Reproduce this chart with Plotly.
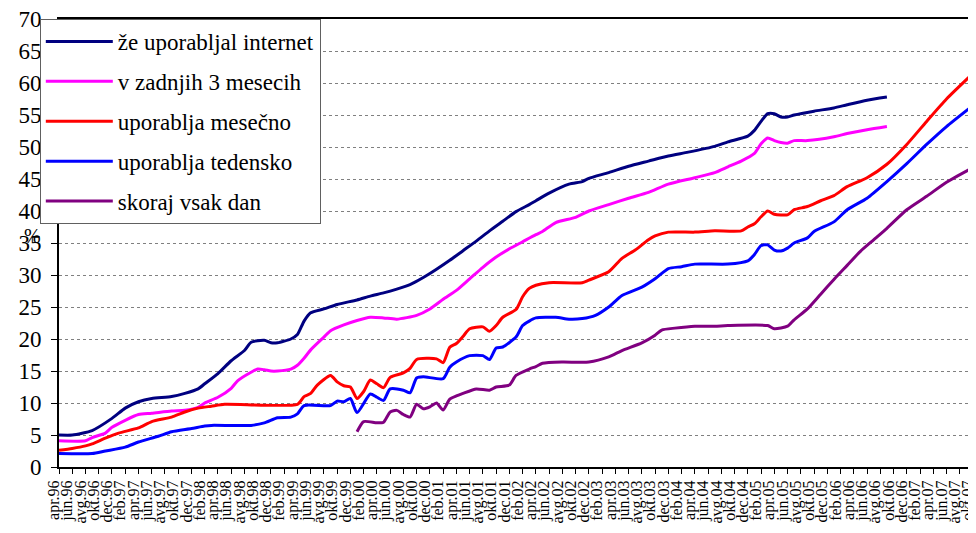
import plotly.graph_objects as go

# months since apr.96 (0 = apr.96, 138 = okt.07)
month_names = ["jan", "feb", "mar", "apr", "maj", "jun", "jul", "avg", "sep", "okt", "nov", "dec"]
tick_vals = list(range(0, 139, 2))
tick_text = [f"{month_names[(3 + i) % 12]}.{(96 + (3 + i) // 12) % 100:02d}" for i in tick_vals]

# že uporabljal internet
ever_x = [0, 2, 5, 8, 10, 12, 14, 17, 19, 21, 22, 24, 26, 28, 29, 31, 32, 33, 35, 36, 37, 38, 40, 42,
          45, 47, 49, 51, 53, 55, 57, 59, 61, 63, 65, 67, 69, 71, 72, 74, 77, 79, 80, 83, 86, 89, 92,
          95, 99, 101, 104, 105, 106, 107, 108, 109, 110, 111, 114, 117, 119, 122, 125]
ever_y = [5.0, 5.0, 5.7, 7.6, 9.2, 10.2, 10.7, 11.0, 11.5, 12.2, 13.0, 14.6, 16.6, 18.2, 19.5, 19.8,
          19.4, 19.4, 20.0, 20.7, 22.8, 24.1, 24.7, 25.4, 26.1, 26.7, 27.2, 27.8, 28.5, 29.6, 30.9,
          32.3, 33.8, 35.3, 36.9, 38.4, 39.9, 41.0, 41.6, 42.8, 44.2, 44.6, 45.1, 46.0, 47.0, 47.8,
          48.6, 49.2, 50.1, 50.8, 51.7, 52.6, 54.0, 55.2, 55.2, 54.7, 54.7, 55.0, 55.6, 56.1, 56.6,
          57.3, 57.8]

# v zadnjih 3 mesecih
last3_x = [0, 4, 5, 7, 8, 10, 12, 14, 17, 19, 21, 22, 24, 26, 27, 29, 30, 31, 32, 33, 35, 36, 37, 38,
           40, 41, 43, 45, 47, 49, 51, 54, 56, 58, 60, 62, 64, 66, 68, 70, 72, 73, 75, 78, 80, 83, 86,
           89, 92, 96, 99, 101, 103, 105, 106, 107, 108, 109, 110, 111, 113, 117, 119, 122, 125]
last3_y = [4.1, 4.1, 4.6, 5.3, 6.2, 7.3, 8.2, 8.4, 8.75, 8.85, 9.3, 10.0, 10.9, 12.3, 13.5, 14.8,
           15.3, 15.2, 15.0, 15.0, 15.3, 15.9, 17.0, 18.3, 20.3, 21.3, 22.2, 22.9, 23.4, 23.3, 23.1,
           23.7, 24.7, 26.2, 27.6, 29.4, 31.2, 32.8, 34.1, 35.2, 36.3, 36.8, 38.2, 39.0, 40.0, 41.0,
           42.0, 42.9, 44.2, 45.2, 46.0, 46.9, 47.8, 49.0, 50.5, 51.4, 51.0, 50.7, 50.6, 51.0, 51.0,
           51.6, 52.1, 52.7, 53.2]

# uporablja mesečno
monthly_x = [0, 2, 4, 5, 7, 9, 12, 14, 17, 19, 21, 23, 25, 36, 37, 38, 39, 41, 42, 43, 44, 45, 46, 47,
             48, 49, 50, 52, 53, 54, 57, 58, 59, 60, 61, 62, 64, 65, 66, 67, 69, 70, 71, 72, 74, 79,
             80, 83, 85, 87, 89, 90, 92, 96, 99, 103, 104, 105, 106, 107, 108, 110, 111, 113, 115,
             117, 119, 122, 125, 128, 131, 134, 138]
monthly_y = [2.6, 2.9, 3.3, 3.6, 4.5, 5.3, 6.1, 7.1, 7.8, 8.6, 9.2, 9.5, 9.8, 9.8, 11.0, 11.5, 12.8,
             14.3, 13.3, 12.7, 12.5, 10.7, 11.8, 13.6, 13.0, 12.4, 14.0, 14.7, 15.4, 16.8, 16.9, 16.3,
             18.7, 19.3, 20.4, 21.6, 21.9, 21.2, 22.1, 23.4, 24.6, 26.6, 27.9, 28.4, 28.8, 28.8, 29.2,
             30.5, 32.6, 33.9, 35.5, 36.1, 36.7, 36.7, 36.9, 36.9, 37.5, 38.0, 39.1, 40.0, 39.5, 39.4,
             40.2, 40.7, 41.6, 42.4, 43.8, 45.2, 47.3, 50.4, 54.0, 57.5, 61.5]

# uporablja tedensko
weekly_x = [0, 5, 7, 10, 12, 15, 17, 20, 22, 23, 29, 31, 33, 35, 36, 37, 41, 42, 43, 44, 45, 47, 48,
            49, 50, 52, 53, 54, 55, 58, 59, 60, 62, 64, 65, 66, 67, 69, 70, 71, 72, 75, 77, 79, 81,
            83, 85, 88, 90, 92, 94, 96, 101, 104, 105, 106, 107, 108, 109, 110, 111, 113, 114, 117,
            119, 122, 125, 128, 131, 134, 138]
weekly_y = [2.1, 2.1, 2.5, 3.1, 3.9, 4.8, 5.5, 6.0, 6.4, 6.5, 6.5, 6.9, 7.7, 7.8, 8.3, 9.6, 9.6, 10.3,
            10.2, 10.7, 8.5, 11.4, 10.9, 10.4, 12.2, 12.0, 11.6, 13.9, 14.1, 13.8, 15.6, 16.4, 17.4,
            17.4, 16.8, 18.6, 18.75, 20.3, 22.1, 22.8, 23.3, 23.4, 23.1, 23.2, 23.7, 25.0, 26.8, 28.1,
            29.4, 31.0, 31.3, 31.7, 31.7, 32.2, 33.2, 34.6, 34.7, 33.9, 33.75, 34.2, 35.0, 35.8, 36.8,
            38.3, 40.2, 42.0, 44.6, 47.4, 50.4, 53.2, 56.5]

# skoraj vsak dan
daily_x = [45, 46, 48, 49, 50, 51, 52, 53, 54, 55, 56, 57, 58, 59, 60, 61, 63, 65, 66, 68, 69, 71, 72,
           73, 76, 80, 83, 85, 88, 90, 91, 93, 96, 99, 101, 107, 108, 110, 111, 113, 115, 117, 119,
           121, 123, 125, 128, 131, 134, 138]
daily_y = [5.5, 7.1, 6.9, 7.0, 8.6, 8.85, 8.2, 7.8, 9.8, 9.1, 9.4, 10.0, 8.9, 10.6, 11.1, 11.5, 12.2,
           12.0, 12.5, 12.8, 14.3, 15.3, 15.7, 16.2, 16.4, 16.4, 17.2, 18.2, 19.4, 20.6, 21.4, 21.7,
           22.0, 22.0, 22.1, 22.1, 21.6, 22.0, 23.0, 24.7, 27.0, 29.3, 31.5, 33.7, 35.5, 37.3, 40.2,
           42.3, 44.5, 46.8]

series = [
    ("že uporabljal internet", ever_x, ever_y, "#000080"),
    ("v zadnjih 3 mesecih", last3_x, last3_y, "#FF00FF"),
    ("uporablja mesečno", monthly_x, monthly_y, "#FF0000"),
    ("uporablja tedensko", weekly_x, weekly_y, "#0000FF"),
    ("skoraj vsak dan", daily_x, daily_y, "#800080"),
]

SERIF = "Liberation Serif"

fig = go.Figure()
for i, (name, xs, ys, color) in enumerate(series):
    fig.add_trace(go.Scatter(
        x=xs, y=ys, name=name, mode="lines", legendgroup=f"g{i}",
        line=dict(color=color, width=3, shape="spline", smoothing=0.6),
    ))

# the page body adds an 8px margin all round, so the figure is shrunk to fit the window
fig.update_layout(
    width=968,
    height=517,
    margin=dict(l=51, r=3, t=11, b=58),
    paper_bgcolor="white",
    plot_bgcolor="white",
    font=dict(family=SERIF, color="black"),
    showlegend=True,
    legend=dict(
        x=-0.021, y=1.0, xanchor="left", yanchor="top",
        bgcolor="white", bordercolor="#606060", borderwidth=1,
        font=dict(family=SERIF, size=23, color="black"),
        tracegroupgap=7,
        itemwidth=67,
    ),
    xaxis=dict(
        range=[0, 138],
        tickvals=tick_vals,
        ticktext=tick_text,
        tickangle=-90,
        tickfont=dict(family=SERIF, size=16),
        ticks="outside", ticklen=5, tickcolor="black",
        ticklabeloverflow="allow",
        ticklabelshift=-5,
        automargin=False,
        showgrid=False, zeroline=False,
        showline=True, linecolor="black", linewidth=2, mirror=True,
    ),
    yaxis=dict(
        range=[0, 70],
        dtick=5,
        tickfont=dict(family=SERIF, size=23),
        ticks="outside", ticklen=6, tickcolor="black",
        ticklabeloverflow="allow",
        ticklabelstandoff=5,
        automargin=False,
        showgrid=True, gridcolor="#808080", griddash="dot", gridwidth=1,
        zeroline=False,
        showline=True, linecolor="black", linewidth=2, mirror=True,
    ),
)

fig.add_annotation(
    text="%", xref="paper", yref="paper", x=-0.041, y=0.515,
    showarrow=False, font=dict(family=SERIF, size=20, color="black"),
)

fig.write_html("out.html")
